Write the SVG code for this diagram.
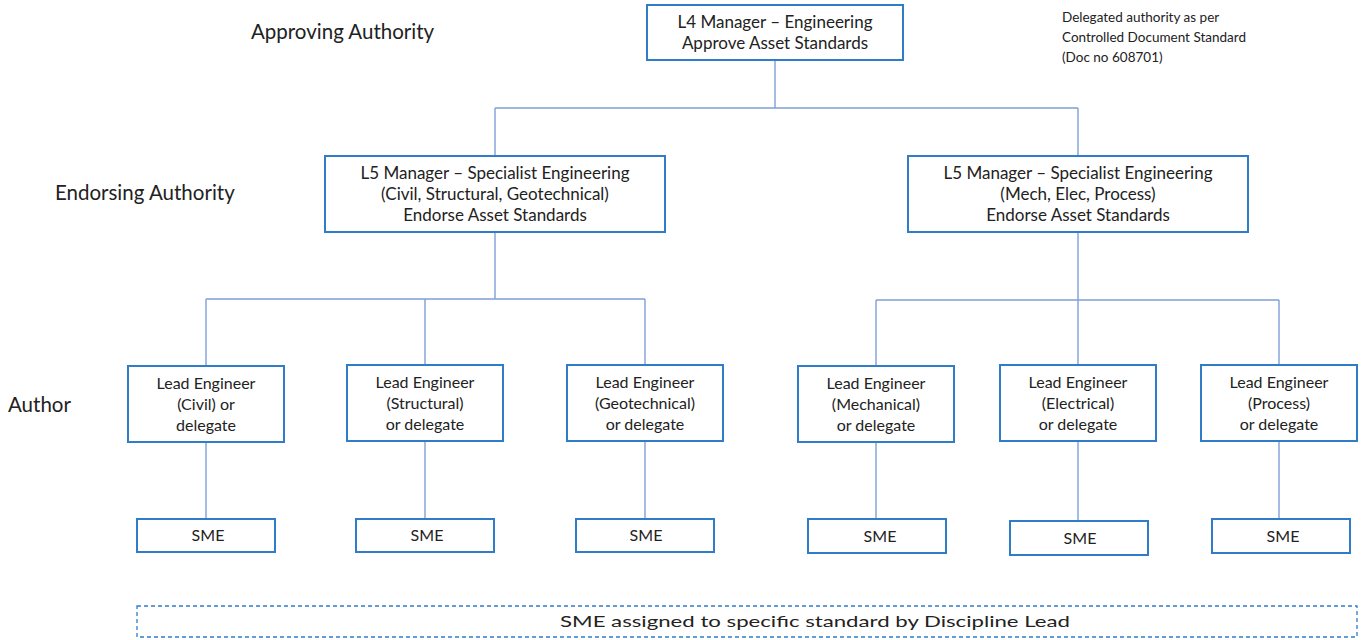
<svg xmlns="http://www.w3.org/2000/svg" width="1363" height="640" viewBox="0 0 1363 640">
<style>
.box{fill:#fff;stroke:#2E7DC6;stroke-width:2}
.t{font-family:Lato,"Liberation Sans",sans-serif;font-size:16px;fill:#222;text-anchor:middle}
.big{font-size:17px}
.lbl{font-family:Lato,"Liberation Sans",sans-serif;font-size:20.5px;fill:#222}
.note{font-family:Lato,"Liberation Sans",sans-serif;font-size:13.5px;fill:#222}
.c{fill:none;stroke:#7FA0D8;stroke-width:1.4}
</style>
<rect width="1363" height="640" fill="#fff"/>
<text class="lbl" x="251" y="39">Approving Authority</text>
<text class="lbl" x="55" y="200">Endorsing Authority</text>
<text class="lbl" x="8" y="412">Author</text>
<g id="note">
<text class="note" x="1062" y="22">Delegated authority as per</text>
<text class="note" x="1062" y="42">Controlled Document Standard</text>
<text class="note" x="1062" y="62">(Doc no 608701)</text>
</g>
<g id="connectors">
<path class="c" d="M775 60V108M495 108H1078M495 108V156M1078 108V156"/>
<path class="c" d="M495 232V299H206M425 299H645M206 299V365M425 299V365M645 299V365"/>
<path class="c" d="M1078 232V300M876 300H1279M876 300V365M1078 300V365M1279 300V365"/>
<path class="c" d="M206 442V519M425 441V519M645 441V519M876 442V519M1078 441V521M1279 441V519"/>
</g>
<g id="l4">
<rect class="box" x="647" y="5" width="256" height="55"/>
<text class="t big" x="775" y="28">L4 Manager – Engineering</text>
<text class="t big" x="775" y="49">Approve Asset Standards</text>
</g>
<g id="l5-civil">
<rect class="box" x="325" y="156" width="340" height="76"/>
<text class="t big" x="495" y="179">L5 Manager – Specialist Engineering</text>
<text class="t big" x="495" y="200">(Civil, Structural, Geotechnical)</text>
<text class="t big" x="495" y="221">Endorse Asset Standards</text>
</g>
<g id="l5-mech">
<rect class="box" x="908" y="156" width="340" height="76"/>
<text class="t big" x="1078" y="179">L5 Manager – Specialist Engineering</text>
<text class="t big" x="1078" y="200">(Mech, Elec, Process)</text>
<text class="t big" x="1078" y="221">Endorse Asset Standards</text>
</g>
<g id="lead-civil">
<rect class="box" x="128" y="366" width="156" height="76"/>
<text class="t" x="206" y="389">Lead Engineer</text>
<text class="t" x="206" y="410">(Civil) or</text>
<text class="t" x="206" y="431">delegate</text>
</g>
<g id="lead-struct">
<rect class="box" x="347" y="365" width="156" height="76"/>
<text class="t" x="425" y="388">Lead Engineer</text>
<text class="t" x="425" y="409">(Structural)</text>
<text class="t" x="425" y="430">or delegate</text>
</g>
<g id="lead-geo">
<rect class="box" x="567" y="365" width="156" height="76"/>
<text class="t" x="645" y="388">Lead Engineer</text>
<text class="t" x="645" y="409">(Geotechnical)</text>
<text class="t" x="645" y="430">or delegate</text>
</g>
<g id="lead-mech">
<rect class="box" x="798" y="366" width="156" height="76"/>
<text class="t" x="876" y="389">Lead Engineer</text>
<text class="t" x="876" y="410">(Mechanical)</text>
<text class="t" x="876" y="431">or delegate</text>
</g>
<g id="lead-elec">
<rect class="box" x="1000" y="365" width="156" height="76"/>
<text class="t" x="1078" y="388">Lead Engineer</text>
<text class="t" x="1078" y="409">(Electrical)</text>
<text class="t" x="1078" y="430">or delegate</text>
</g>
<g id="lead-proc">
<rect class="box" x="1201" y="365" width="156" height="76"/>
<text class="t" x="1279" y="388">Lead Engineer</text>
<text class="t" x="1279" y="409">(Process)</text>
<text class="t" x="1279" y="430">or delegate</text>
</g>
<g id="sme1"><rect class="box" x="137" y="519" width="138" height="33"/><text class="t" x="208" y="541">SME</text></g>
<g id="sme2"><rect class="box" x="356" y="519" width="138" height="33"/><text class="t" x="427" y="541">SME</text></g>
<g id="sme3"><rect class="box" x="576" y="519" width="138" height="33"/><text class="t" x="646" y="541">SME</text></g>
<g id="sme4"><rect class="box" x="808" y="519" width="138" height="34"/><text class="t" x="880" y="542">SME</text></g>
<g id="sme5"><rect class="box" x="1010" y="521" width="138" height="34"/><text class="t" x="1080" y="544">SME</text></g>
<g id="sme6"><rect class="box" x="1212" y="519" width="138" height="34"/><text class="t" x="1283" y="542">SME</text></g>
<g id="sme-note">
<rect x="137" y="606" width="1220" height="31" fill="none" stroke="#2E7DC6" stroke-width="1.3" stroke-dasharray="4 3"/>
<text class="t" x="815" y="627" style="font-size:15px" textLength="510" lengthAdjust="spacingAndGlyphs">SME assigned to specific standard by Discipline Lead</text>
</g>
</svg>
